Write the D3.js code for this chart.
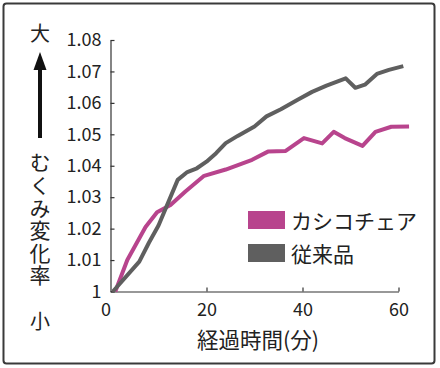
<!DOCTYPE html>
<html><head><meta charset="utf-8">
<script src="https://cdn.jsdelivr.net/npm/d3@7"></script>
<style>body{margin:0;background:#fff}svg{display:block}</style>
</head><body>
<svg id="c" width="440" height="368"></svg>
<script>
const seriesNames = ["カシコチェア", "従来品"];
const seriesColors = ["#b8448d", "#5f5f5f"];
const kashikoMinutes = [1, 3.5, 7.3, 9.7, 12.5, 15.6, 19.5, 24, 29.5, 32.8, 36.5, 40.3, 44.1, 46.5, 48.8, 52.5, 55.2, 58.5, 62.2];
const kashikoValues  = [1.000, 1.010, 1.0205, 1.0252, 1.0275, 1.0318, 1.0368, 1.0388, 1.0419, 1.0445, 1.0447, 1.0488, 1.0471, 1.0508, 1.0488, 1.0463, 1.0508, 1.0524, 1.0525];
const juraiMinutes = [0.5, 6, 8, 10, 14, 16, 18, 20, 22, 24, 26.5, 30, 32.5, 35.5, 39, 42, 45, 49, 51, 53, 55.5, 58, 61];
const juraiValues  = [1.000, 1.0095, 1.0155, 1.021, 1.0355, 1.038, 1.0392, 1.0413, 1.044, 1.0472, 1.0495, 1.0525, 1.0557, 1.058, 1.061, 1.0635, 1.0655, 1.0678, 1.0648, 1.0658, 1.0692, 1.0705, 1.0717];
const xTicks = [0, 20, 40, 60];
const yTicks = [1, 1.01, 1.02, 1.03, 1.04, 1.05, 1.06, 1.07, 1.08];
const xTitle = "経過時間(分)";
const yTitle = "むくみ変化率";
const yTop = "大", yBottom = "小";

const svg = d3.select("#c");
const font = "'Noto Sans CJK JP', 'Noto Sans', sans-serif";

// border
svg.append("rect").attr("x", 3.5).attr("y", 3.5).attr("width", 431).attr("height", 360)
  .attr("rx", 3).attr("fill", "#fff").attr("stroke", "#3a3a3a").attr("stroke-width", 2);

const x = d3.scaleLinear().domain([0, 60]).range([110.5, 398.5]);
const y = d3.scaleLinear().domain([1, 1.08]).range([291.5, 40]);

const yAxis = svg.append("g").attr("transform", "translate(110.5,0)")
  .call(d3.axisLeft(y).tickValues(yTicks).tickSizeInner(-4).tickSizeOuter(0).tickPadding(9)
    .tickFormat(d => d === 1 ? "1" : d3.format(".2f")(d)));
const xAxis = svg.append("g").attr("transform", "translate(0,291.5)")
  .call(d3.axisBottom(x).tickValues(xTicks).tickSizeInner(-4).tickSizeOuter(0).tickPadding(12));
[yAxis, xAxis].forEach(a => {
  a.selectAll("path,line").attr("stroke", "#333").attr("stroke-width", 1.2);
  a.selectAll("text").attr("font-family", font).attr("font-size", 18).attr("fill", "#222");
});
xAxis.selectAll(".tick text").attr("dx", d => d === 0 ? -5 : 0);
xAxis.selectAll(".tick").filter(d => d === 0).select("line").remove();

// lines
const line = d3.line().x(d => x(d[0])).y(d => y(d[1]));
const data = [
  d3.zip(kashikoMinutes, kashikoValues),
  d3.zip(juraiMinutes, juraiValues)
];
data.forEach((pts, i) => {
  svg.append("path").datum(pts).attr("d", line).attr("fill", "none")
    .attr("stroke", seriesColors[i]).attr("stroke-width", 4)
    .attr("stroke-linejoin", "round").attr("stroke-linecap", "butt");
});

// legend
seriesNames.forEach((n, i) => {
  const cy = 220 + i * 33;
  svg.append("rect").attr("x", 248).attr("y", cy - 9).attr("width", 37).attr("height", 18)
    .attr("fill", seriesColors[i]);
  svg.append("text").attr("x", 291).attr("y", cy).attr("dominant-baseline", "central")
    .attr("font-family", font).attr("font-size", 21).attr("fill", "#222").text(n);
});

// x title
svg.append("text").attr("x", 258).attr("y", 338).attr("text-anchor", "middle")
  .attr("dominant-baseline", "central").attr("font-family", font).attr("font-size", 21.5)
  .attr("fill", "#222").text(xTitle);

// left labels
svg.append("text").attr("x", 40).attr("y", 32).attr("text-anchor", "middle")
  .attr("dominant-baseline", "central").attr("font-family", font).attr("font-size", 20)
  .attr("fill", "#222").text(yTop);
svg.append("text").attr("x", 40).attr("y", 320).attr("text-anchor", "middle")
  .attr("dominant-baseline", "central").attr("font-family", font).attr("font-size", 20)
  .attr("fill", "#222").text(yBottom);
svg.append("text").attr("x", 40).attr("y", 152)
  .attr("writing-mode", "tb").style("writing-mode", "vertical-rl")
  .attr("letter-spacing", 1.6)
  .attr("font-family", font).attr("font-size", 21)
  .attr("fill", "#222").text(yTitle);
// arrow
svg.append("line").attr("x1", 40).attr("x2", 40).attr("y1", 138).attr("y2", 66)
  .attr("stroke", "#111").attr("stroke-width", 4);
svg.append("path").attr("d", "M40,52 L46.5,70 L33.5,70 Z").attr("fill", "#111");
</script>
</body></html>
